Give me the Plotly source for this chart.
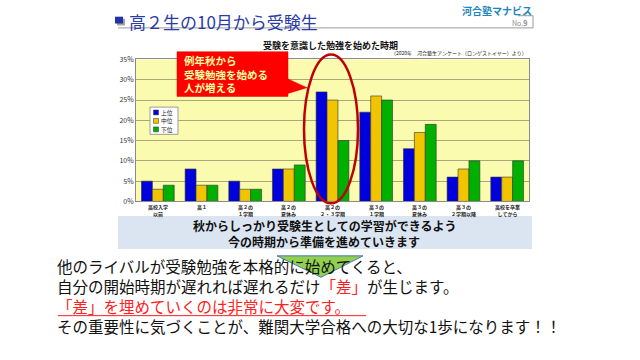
import plotly.graph_objects as go

categories = ["高校入学<br>以前", "高１", "高２の<br>１学期", "高２の<br>夏休み", "高２の<br>２・３学期",
              "高３の<br>１学期", "高３の<br>夏休み", "高３の<br>２学期以降", "高校を卒業<br>してから"]
upper = [5, 8, 5, 8, 27, 22, 13, 6, 6]
middle = [3, 4, 3, 8, 25, 26, 17, 8, 6]
lower = [4, 4, 3, 9, 15, 25, 19, 10, 10]
series_names = ["上位", "中位", "下位"]
y_ticks = [0, 5, 10, 15, 20, 25, 30, 35]
y_tick_labels = [f"{v}%" for v in y_ticks]

W, H = 640, 360
FONT = "Noto Sans CJK JP"


def px(x):
    return x / W


def py(y):
    return 1 - y / H


fig = go.Figure()
colors = ["#0000dd", "#f2c400", "#00b000"]
for name, vals, c in zip(series_names, [upper, middle, lower], colors):
    fig.add_trace(go.Bar(x=categories, y=vals, name=name, showlegend=False,
                         marker=dict(color=c, line=dict(color="#333333", width=0.6))))

shapes = []
annotations = []

# category labels placed on the category axis
for cat in categories:
    annotations.append(dict(text=f"<b>{cat}</b>", x=cat, xref="x", y=py(201.5), yref="paper",
                            xanchor="center", yanchor="top", showarrow=False, borderpad=0,
                            font=dict(family=FONT, size=5, color="#222222")))

# custom compact legend
shapes.append(dict(type="rect", xref="paper", yref="paper", x0=px(150), x1=px(178), y0=py(132), y1=py(104),
                   fillcolor="white", line=dict(color="#9a9a9a", width=1)))
for i, (name, c) in enumerate(zip(series_names, colors)):
    yc = 109.5 + 8.7 * i
    shapes.append(dict(type="rect", xref="paper", yref="paper", x0=px(153.5), x1=px(158.5),
                       y0=py(yc + 2.5), y1=py(yc - 2.5), fillcolor=c, line=dict(color="#333333", width=0.5)))
    annotations.append(dict(text=name, x=px(160), y=py(yc), xref="paper", yref="paper",
                            xanchor="left", yanchor="middle", showarrow=False, borderpad=0,
                            font=dict(family=FONT, size=5.8, color="#222222")))

# header
shapes.append(dict(type="line", xref="paper", yref="paper", x0=px(118), x1=px(533), y0=py(22.5), y1=py(22.5),
                   line=dict(color="#9a9a9a", width=1)))
shapes.append(dict(type="line", xref="paper", yref="paper", x0=px(533), x1=px(533), y0=py(10), y1=py(22.5),
                   line=dict(color="#9a9a9a", width=1)))
shapes.append(dict(type="line", xref="paper", yref="paper", x0=px(518), x1=px(533), y0=py(10), y1=py(10),
                   line=dict(color="#9a9a9a", width=1)))
shapes.append(dict(type="rect", xref="paper", yref="paper", x0=px(117), x1=px(125), y0=py(20), y1=py(13),
                   fillcolor="#a0a0a0", line=dict(width=0)))
shapes.append(dict(type="rect", xref="paper", yref="paper", x0=px(115), x1=px(123), y0=py(18), y1=py(11),
                   fillcolor="#2233aa", line=dict(width=0)))
annotations.append(dict(text="高２生の10月から受験生", x=px(127), y=py(16), xref="paper", yref="paper",
                        xanchor="left", yanchor="middle", showarrow=False,
                        font=dict(family=FONT, size=17, color="#2a3aa8")))
annotations.append(dict(text="<b>河合塾マナビス</b>", x=px(533), y=py(5), xref="paper", yref="paper",
                        xanchor="right", yanchor="middle", showarrow=False, borderpad=0,
                        font=dict(family=FONT, size=10, color="#1a86c0")))
annotations.append(dict(text="No.<b>9</b>", x=px(528), y=py(17), xref="paper", yref="paper",
                        xanchor="right", yanchor="middle", showarrow=False, borderpad=0,
                        font=dict(family=FONT, size=7, color="#888888")))

# chart title & source
annotations.append(dict(text="<b>受験を意識した勉強を始めた時期</b>", x=px(330), y=py(41), xref="paper", yref="paper",
                        xanchor="center", yanchor="middle", showarrow=False, borderpad=0,
                        font=dict(family=FONT, size=9, color="#111111")))
annotations.append(dict(text="（2020年　河合塾生アンケート（ロンゲストイヤー）より）", x=px(528), y=py(48),
                        xref="paper", yref="paper", xanchor="right", yanchor="middle", showarrow=False, borderpad=0,
                        font=dict(family=FONT, size=5, color="#222222")))

# callout
shapes.append(dict(type="path", xref="paper", yref="paper",
                   path=f"M {px(177)} {py(47)} L {px(288)} {py(47)} L {px(288)} {py(75)} L {px(307)} {py(84)} "
                        f"L {px(288)} {py(90)} L {px(288)} {py(93)} L {px(177)} {py(93)} Z",
                   fillcolor="#ff0000", line=dict(color="#dd0000", width=0.5)))
annotations.append(dict(text="<b>例年秋から<br>受験勉強を始める<br>人が増える</b>", x=px(183), y=py(70),
                        xref="paper", yref="paper", xanchor="left", yanchor="middle", align="left",
                        showarrow=False, borderpad=0,
                        font=dict(family=FONT, size=10.5, color="#ffffa0")))

# ellipse
shapes.append(dict(type="circle", xref="paper", yref="paper", x0=px(304), x1=px(358), y0=py(203), y1=py(50),
                   line=dict(color="#c00000", width=2.5)))

# banner
shapes.append(dict(type="rect", xref="paper", yref="paper", x0=px(118), x1=px(532), y0=py(250), y1=py(216),
                   fillcolor="#dbe5f1", line=dict(width=0), layer="below"))
for t, yy in [("秋からしっかり受験生としての学習ができるよう", 226), ("今の時期から準備を進めていきます", 242.5)]:
    annotations.append(dict(text=f"<b>{t}</b>", x=px(324), y=py(yy), xref="paper", yref="paper",
                            xanchor="center", yanchor="middle", showarrow=False, borderpad=0,
                            font=dict(family=FONT, size=12, color="#111111")))

# triangle
shapes.append(dict(type="path", xref="paper", yref="paper",
                   path=f"M {px(277)} {py(257)} L {px(363)} {py(257)} L {px(321)} {py(279)} Z",
                   fillcolor="#92d050", line=dict(color="#4a78b0", width=1)))

# bottom text
lines = [
    "他のライバルが受験勉強を本格的に始めてくると、",
    "自分の開始時期が遅れれば遅れるだけ<span style='color:#ff2020'>「差」</span>が生じます。",
    "<span style='color:#ff2020'>「差」を埋めていくのは非常に大変です。</span>",
    "その重要性に気づくことが、難関大学合格への大切な1歩になります！！",
]
annotations.append(dict(text="<br>".join(lines), x=px(56), y=py(298.5), xref="paper", yref="paper",
                        xanchor="left", yanchor="middle", align="left", showarrow=False, borderpad=0,
                        font=dict(family=FONT, size=15.5, color="#111111")))
shapes.append(dict(type="line", xref="paper", yref="paper", x0=px(58), x1=px(366), y0=py(318.5), y1=py(318.5),
                   line=dict(color="#ff2020", width=1)))

fig.update_layout(
    width=W, height=H, margin=dict(l=0, r=0, t=0, b=0),
    paper_bgcolor="white", plot_bgcolor="#fbfbb0",
    barmode="group", bargap=0.25, bargroupgap=0,
    font=dict(family=FONT),
    shapes=shapes, annotations=annotations, showlegend=False,
    xaxis=dict(domain=[px(136), px(529)], showticklabels=False,
               showline=True, linecolor="#8a8a8a", mirror=True, ticks="", fixedrange=True),
    yaxis=dict(domain=[py(201), py(55)], range=[0, 35], tickvals=y_ticks, ticktext=y_tick_labels,
               tickfont=dict(size=7, family=FONT, color="#333333"), gridcolor="#a8a878", gridwidth=1,
               showline=True, linecolor="#8a8a8a", mirror=True, zeroline=False),
)

fig.write_html("out.html")
